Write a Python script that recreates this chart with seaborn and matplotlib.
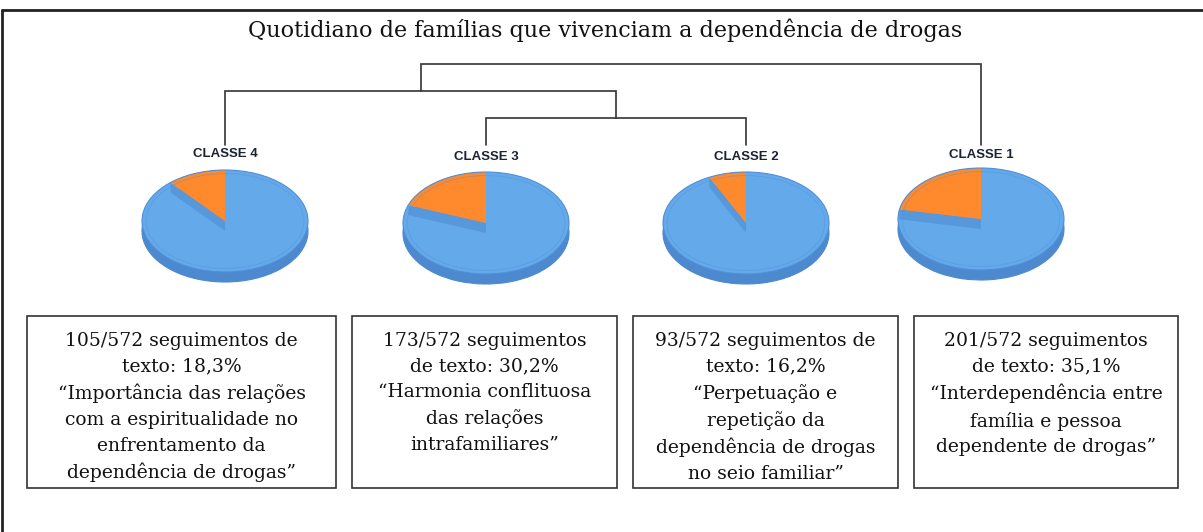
import matplotlib
matplotlib.use("Agg")
import matplotlib.pyplot as plt
from matplotlib.patches import Rectangle, Ellipse, Polygon
import numpy as np
import seaborn as sns

# ---- data ----
classes = ["CLASSE 4", "CLASSE 3", "CLASSE 2", "CLASSE 1"]
# orange wedge share of each pie (as drawn)
wedge_share = [0.114, 0.193, 0.073, 0.22]
counts = [105, 173, 93, 201]
total = 572
pct = ["18,3", "30,2", "16,2", "35,1"]
de_on_first_line = [True, False, True, False]
themes = [
    "“Importância das relações\ncom a espiritualidade no\nenfrentamento da\ndependência de drogas”",
    "“Harmonia conflituosa\ndas relações\nintrafamiliares”",
    "“Perpetuação e\nrepetição da\ndependência de drogas\nno seio familiar”",
    "“Interdependência entre\nfamília e pessoa\ndependente de drogas”",
]
# dendrogram: (left, right, level); ints refer to earlier merges
merges = [("CLASSE 3", "CLASSE 2", 1), ("CLASSE 4", 0, 2), (1, "CLASSE 1", 3)]
title = "Quotidiano de famílias que vivenciam a dependência de drogas"

# ---- layout (pixels) ----
W, H = 1203, 532
leaf_x = [225, 486, 746, 981]
label_y = [154, 157, 157, 155]
pie_cy = [221, 223, 223, 219]
rx, ry, depth = 83, 51, 10
boxes = [(27, 336), (352, 617), (633, 898), (914, 1178)]
box_top, box_bot = 316, 488

blue = "#64a9ea"
blue_edge = "#4f8fd8"
rim = "#4c89ce"
orange = "#ff8a2d"

sns.set_theme(style="white")
plt.rcParams["font.family"] = ["DejaVu Serif"]

fig = plt.figure(figsize=(W / 100, H / 100), dpi=100)
ax = fig.add_axes([0, 0, 1, 1])
ax.set_xlim(0, W)
ax.set_ylim(H, 0)
ax.axis("off")

# frame (left + top only, rest cropped in the original)
ax.plot([2, W], [10, 10], color="#222222", lw=2)
ax.plot([2, 2], [10, H], color="#222222", lw=2)

ax.text(605, 30, title, ha="center", va="center", fontsize=16, color="#111111")

# dendrogram
def level_y(lvl):
    return 145 - 27 * lvl

nodes = []
def node_pos(key):
    if isinstance(key, str):
        return leaf_x[classes.index(key)], 0
    return nodes[key]

for left, right, lvl in merges:
    xl, hl = node_pos(left)
    xr, hr = node_pos(right)
    yy = level_y(lvl)
    ax.plot([xl, xl, xr, xr], [level_y(hl), yy, yy, level_y(hr)],
            color="#333333", lw=1.2, solid_joinstyle="miter")
    nodes.append(((xl + xr) / 2, lvl))

# class labels
for i, cls in enumerate(classes):
    ax.text(leaf_x[i], label_y[i], cls, ha="center", va="center",
            family="Liberation Sans", weight="bold", fontsize=9.5, color="#1d2333")

# pseudo 3D pies
m = 1.03
d = depth / ry
for i, share in enumerate(wedge_share):
    cx, cy = leaf_x[i], pie_cy[i]
    ylo, yhi = -1 - d - 0.03, 1.03
    pax = fig.add_axes([(cx - rx * m) / W, (H - (cy - ylo * ry)) / H,
                        2 * rx * m / W, (yhi - ylo) * ry / H])
    pax.pie([share, 1 - share], colors=[rim, rim], startangle=90, center=(0, -d),
            wedgeprops=dict(linewidth=0.8, edgecolor=rim))
    pax.pie([share, 1 - share], colors=[orange, blue], startangle=90,
            wedgeprops=dict(linewidth=0))
    th = np.deg2rad(90 + share * 360)
    ex, ey = np.cos(th), np.sin(th)
    pax.add_patch(Polygon([(0, 0), (ex, ey), (ex, ey - d), (0, -d)],
                          closed=True, facecolor=rim, alpha=0.5, lw=0))
    pax.pie([share, 1 - share], colors=[orange, "none"], startangle=90,
            wedgeprops=dict(linewidth=0))
    pax.add_patch(Ellipse((0, 0), 2, 2, fill=False, edgecolor=blue_edge, lw=0.8))
    pax.add_patch(Ellipse((0, 0), 1.9, 1.86, fill=False, edgecolor=blue_edge,
                          lw=0.6, alpha=0.45))
    pax.set_xlim(-m, m)
    pax.set_ylim(ylo, yhi)
    pax.set_aspect("auto")
    pax.axis("off")

# text boxes
for i, (x0, x1) in enumerate(boxes):
    ax.add_patch(Rectangle((x0, box_top), x1 - x0, box_bot - box_top,
                           fill=False, edgecolor="#333333", lw=1.2))
    if de_on_first_line[i]:
        head = f"{counts[i]}/{total} seguimentos de\ntexto: {pct[i]}%"
    else:
        head = f"{counts[i]}/{total} seguimentos\nde texto: {pct[i]}%"
    ax.text((x0 + x1) / 2, 332, head + "\n" + themes[i], ha="center", va="top",
            multialignment="center", fontsize=13.5, linespacing=1.54, color="#111111")

fig.savefig("out.png", dpi=100, facecolor="white")
